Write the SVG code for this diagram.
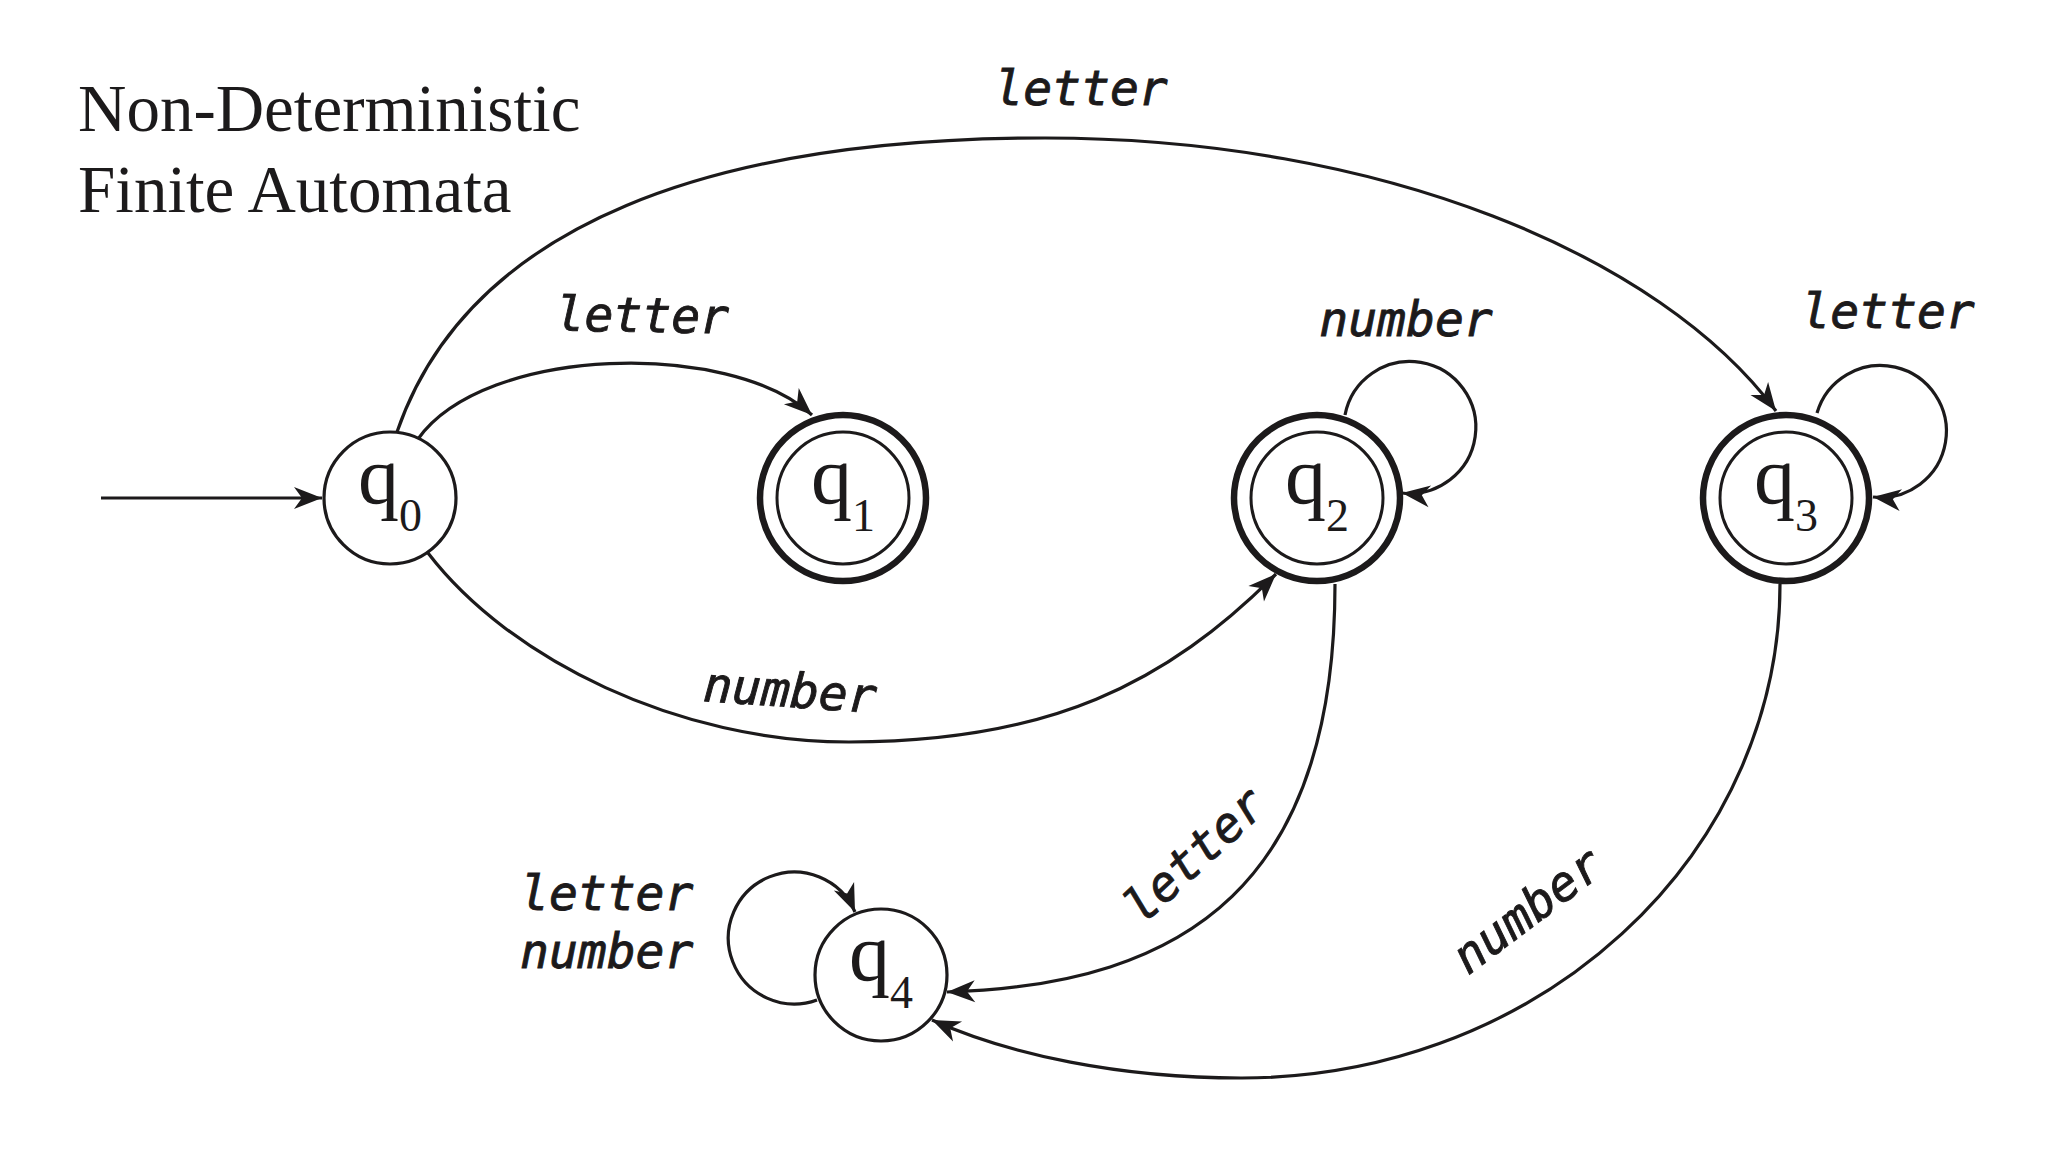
<svg xmlns="http://www.w3.org/2000/svg" width="2048" height="1152" viewBox="0 0 2048 1152">
  <style>
    .edge { fill: none; stroke: #1c1a1b; stroke-width: 3.2; }
    .node { fill: #ffffff; stroke: #1c1a1b; stroke-width: 3.2; }
    .outer { fill: #ffffff; stroke: #1c1a1b; stroke-width: 6.5; }
    .inner { fill: none; stroke: #1c1a1b; stroke-width: 3; }
    .q { font-family: "Liberation Serif", "Times New Roman", serif; font-size: 82px; fill: #1c1a1b; }
    .sub { font-family: "Liberation Serif", "Times New Roman", serif; font-size: 46px; fill: #1c1a1b; }
    .lbl { font-family: "DejaVu Sans Mono", "Liberation Mono", monospace; font-style: italic; font-size: 48px; fill: #1c1a1b; stroke: #1c1a1b; stroke-width: 0.9; }
    .title { font-family: "Liberation Serif", "Times New Roman", serif; font-size: 67px; fill: #1c1a1b; }
  </style>
  <defs>
    <marker id="ah" viewBox="-30 -12 32 24" refX="0" refY="0" markerWidth="32" markerHeight="24" markerUnits="userSpaceOnUse" orient="auto">
      <path d="M0,0 L-28,-11 L-20,0 L-28,11 Z" fill="#1c1a1b"/>
    </marker>
  </defs>
  <rect width="2048" height="1152" fill="#ffffff"/>

  <g id="title">
    <text class="title" x="78" y="131">Non-Deterministic</text>
    <text class="title" x="78" y="212">Finite Automata</text>
  </g>

  <g id="connectors">
    <line class="edge" x1="101" y1="498" x2="322" y2="498" stroke-width="4" marker-end="url(#ah)"/>
    <path class="edge" d="M 397 432 C 470 220 720 138 1045 138 C 1380 138 1660 255 1776 411" marker-end="url(#ah)"/>
    <path class="edge" d="M 418 439 C 485 345 730 340 812 415" marker-end="url(#ah)"/>
    <path class="edge" d="M 428 553 C 510 660 679 742 849 742 C 1049 742 1166 684 1276 574" marker-end="url(#ah)"/>
    <path class="edge" d="M 1335 584 C 1335 880 1190 985 947 992" marker-end="url(#ah)"/>
    <path class="edge" d="M 1780 584 A 538 494 0 0 1 1241 1078 C 1120 1078 1010 1055 932 1020" marker-end="url(#ah)"/>
    <path class="edge" d="M 1345 415 A 66 66 0 1 1 1402 493" marker-end="url(#ah)"/>
    <path class="edge" d="M 1817 413 A 66 66 0 1 1 1873 497" marker-end="url(#ah)"/>
    <path class="edge" d="M 817 1000 A 66 66 0 1 1 855 912" marker-end="url(#ah)"/>

    <text class="lbl" x="1081" y="105" text-anchor="middle">letter</text>
    <text class="lbl" text-anchor="middle" transform="translate(642,332) rotate(1)" x="0" y="0">letter</text>
    <text class="lbl" text-anchor="middle" transform="translate(789,707) rotate(4)" x="0" y="0">number</text>
    <text class="lbl" x="1406" y="336" text-anchor="middle">number</text>
    <text class="lbl" x="1888" y="328" text-anchor="middle">letter</text>
    <text class="lbl" text-anchor="middle" transform="translate(1194,855) rotate(-43)" x="0" y="17">letter</text>
    <text class="lbl" text-anchor="middle" transform="translate(1527,910) rotate(-37)" x="0" y="17">number</text>
    <text class="lbl" x="520" y="910">letter</text>
    <text class="lbl" x="520" y="968">number</text>
  </g>

  <g id="q0">
    <circle class="node" cx="390" cy="498" r="66"/>
    <text class="q" x="358" y="503">q</text>
    <text class="sub" x="399" y="531">0</text>
  </g>
  <g id="q1">
    <circle class="outer" cx="843" cy="498" r="83"/>
    <circle class="inner" cx="843" cy="498" r="66"/>
    <text class="q" x="811" y="503">q</text>
    <text class="sub" x="852" y="531">1</text>
  </g>
  <g id="q2">
    <circle class="outer" cx="1317" cy="498" r="83"/>
    <circle class="inner" cx="1317" cy="498" r="66"/>
    <text class="q" x="1285" y="503">q</text>
    <text class="sub" x="1326" y="531">2</text>
  </g>
  <g id="q3">
    <circle class="outer" cx="1786" cy="498" r="83"/>
    <circle class="inner" cx="1786" cy="498" r="66"/>
    <text class="q" x="1754" y="503">q</text>
    <text class="sub" x="1795" y="531">3</text>
  </g>
  <g id="q4">
    <circle class="node" cx="881" cy="975" r="66"/>
    <text class="q" x="849" y="980">q</text>
    <text class="sub" x="890" y="1008">4</text>
  </g>
</svg>
